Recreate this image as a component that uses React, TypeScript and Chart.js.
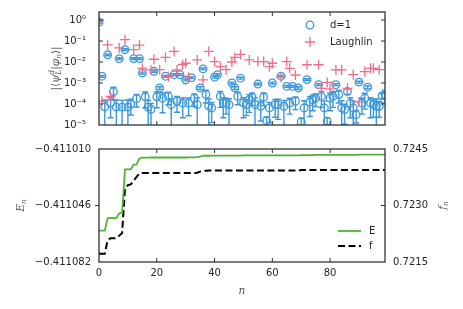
import React, { useEffect, useRef } from "react";
import { Chart, registerables } from "chart.js";
Chart.register(...registerables);

// ---------- data ----------
const N_VALUES = Array.from({ length: 100 }, (_, i) => i);

const D1_VALUES = [
  0.79, 2.1e-3, 7.4e-5, 2.2e-2, 1.1e-4, 3.9e-4, 7.1e-5, 1.45e-2, 7.1e-5, 3.9e-2,
  7.1e-5, 1.0e-4, 1.45e-2, 1.8e-4, 1.45e-2, 3.0e-3, 2.2e-4, 7.1e-5, 5.6e-5, 3.6e-3,
  2.2e-4, 5.8e-4, 1.9e-4, 2.1e-3, 2.3e-4, 9.3e-5, 2.5e-3, 1.35e-4, 2.5e-3, 1.1e-4,
  1.4e-3, 1.1e-4, 1.8e-3, 1.9e-4, 9.3e-5, 5.8e-4, 4.7e-3, 2.8e-4, 7.9e-5, 6.5e-5,
  1.9e-3, 2.5e-3, 2.3e-4, 1.1e-4, 1.1e-4, 9.3e-5, 1.0e-3, 5.8e-4, 2.3e-4, 1.7e-3,
  1.1e-4, 9.3e-5, 1.6e-4, 2.1e-4, 9.3e-5, 8.9e-4, 7.8e-5, 2.1e-4, 1.6e-5, 6.5e-5,
  1.0e-3, 9.3e-5, 9.3e-5, 2.1e-3, 7.8e-5, 6.9e-4, 1.1e-4, 6.9e-4, 1.35e-4, 5.8e-4,
  1.4e-5, 6.5e-5, 1.45e-3, 1.26e-4, 1.6e-4, 1.9e-4, 8.3e-4, 2.3e-4, 6.5e-5, 1.5e-5,
  1.9e-4, 2.3e-4, 8.3e-4, 2.8e-4, 6.5e-5, 5.4e-5, 4.0e-4, 1.1e-4, 6.5e-5, 3.1e-5,
  1.1e-3, 1.1e-4, 1.9e-4, 6.3e-4, 1.1e-4, 9.3e-5, 7.8e-5, 7.8e-5, 2.5e-4, 2.8e-4,
];

// relative (fractional) error of each d=1 point
const D1_REL_ERR = [
  0.1, 0.1, 1.1, 0.1, 0.8, 0.6, 1.2, 0.1, 1.1, 0.1,
  1.2, 0.7, 0.1, 0.6, 0.1, 0.1, 0.7, 1.1, 0.9, 0.1,
  0.7, 0.15, 0.8, 0.1, 0.6, 0.9, 0.1, 0.7, 0.1, 0.8,
  0.1, 0.75, 0.1, 0.6, 1.1, 0.15, 0.1, 0.6, 1.2, 0.8,
  0.1, 0.1, 0.7, 0.8, 0.7, 0.9, 0.1, 0.15, 0.6, 0.1,
  0.8, 0.7, 0.75, 0.6, 1.1, 0.1, 0.8, 0.6, 0.5, 0.8,
  0.1, 0.75, 0.8, 0.1, 0.9, 0.1, 0.7, 0.1, 0.6, 0.15,
  0.5, 1.2, 0.1, 0.8, 0.7, 0.6, 0.1, 0.7, 1.1, 0.5,
  0.75, 0.7, 0.1, 0.6, 1.2, 0.8, 0.3, 0.8, 1.1, 0.6,
  0.1, 0.7, 0.7, 0.15, 0.8, 0.75, 1.2, 0.7, 0.3, 0.6,
];

const LAUGHLIN_VALUES = [
  1.0, 1.35e-4, null, 6.6e-2, 2.3e-4, null, null, 4.7e-2, null, 1.15e-1,
  null, null, 3.9e-2, null, 6.3e-2, 5.1e-3, null, null, 4.2e-3, 1.35e-2,
  null, 4.3e-3, null, 1.65e-2, 2.0e-3, null, 3.2e-2, 4.2e-3, null, 7.4e-3,
  8.7e-3, 1.9e-3, null, null, 1.26e-2, null, 1.4e-3, null, 3.2e-2, null,
  1.05e-2, null, 6.0e-3, null, 4.3e-3, null, 1.0e-2, 1.65e-2, null, 2.3e-2,
  null, null, 1.26e-2, null, null, 1.05e-2, null, 1.05e-2, null, 6.0e-3,
  8.7e-3, null, null, 1.9e-3, null, 1.05e-2, 5.0e-3, null, 2.4e-3, null,
  null, null, 7.4e-3, null, null, null, 7.4e-3, 5.6e-4, null, 1.07e-3,
  5.2e-4, null, 4.2e-3, null, 4.2e-3, null, 5.6e-4, null, 2.5e-3, null,
  1.26e-4, null, 3.5e-3, null, 5.0e-3, 5.0e-3, null, 4.3e-3, null, null,
];

const E_VALUES = [
  -0.411062, -0.411062, -0.411062, -0.411054, -0.411054, -0.411054, -0.411054, -0.411051, -0.4110505, -0.411023,
  -0.411023, -0.411023, -0.41102, -0.41102, -0.411016, -0.4110155, -0.4110155, -0.4110155, -0.4110154, -0.4110154,
  -0.4110154, -0.4110154, -0.4110154, -0.4110154, -0.4110154, -0.4110154, -0.4110154, -0.4110154, -0.4110154, -0.4110154,
  -0.4110154, -0.4110153, -0.4110153, -0.4110153, -0.4110152, -0.4110148, -0.4110143, -0.4110143, -0.4110143, -0.4110142,
  -0.4110142, -0.4110142, -0.4110142, -0.4110142, -0.4110142, -0.4110142, -0.4110142, -0.4110142, -0.4110142, -0.4110142,
  -0.4110141, -0.4110141, -0.4110141, -0.4110141, -0.4110141, -0.4110141, -0.4110141, -0.4110141, -0.4110141, -0.4110141,
  -0.411014, -0.411014, -0.411014, -0.411014, -0.411014, -0.411014, -0.411014, -0.411014, -0.411014, -0.411014,
  -0.4110139, -0.4110139, -0.4110139, -0.4110139, -0.4110139, -0.4110138, -0.4110138, -0.4110138, -0.4110138, -0.4110138,
  -0.4110137, -0.4110137, -0.4110137, -0.4110137, -0.4110137, -0.4110137, -0.4110137, -0.4110137, -0.4110137, -0.4110137,
  -0.4110136, -0.4110136, -0.4110136, -0.4110136, -0.4110136, -0.4110136, -0.4110136, -0.4110136, -0.4110136, -0.4110136,
];

const F_VALUES = [
  0.72172, 0.72172, 0.72172, 0.72208, 0.72213, 0.72213, 0.72213, 0.7222, 0.72227, 0.72345,
  0.72354, 0.72356, 0.72366, 0.72376, 0.72385, 0.72386, 0.72386, 0.72386, 0.72386, 0.72386,
  0.72386, 0.72386, 0.72386, 0.72386, 0.72386, 0.72386, 0.72386, 0.72386, 0.72386, 0.72386,
  0.72386, 0.72386, 0.72386, 0.72386, 0.72387, 0.7239, 0.72392, 0.72392, 0.72393, 0.72393,
  0.72393, 0.72393, 0.72393, 0.72393, 0.72393, 0.72393, 0.72393, 0.72393, 0.72393, 0.72393,
  0.72393, 0.72393, 0.72393, 0.72393, 0.72393, 0.72393, 0.72393, 0.72393, 0.72393, 0.72393,
  0.72393, 0.72393, 0.72393, 0.72393, 0.72393, 0.72393, 0.72393, 0.72393, 0.72393, 0.72393,
  0.72394, 0.72394, 0.72394, 0.72394, 0.72394, 0.72394, 0.72394, 0.72394, 0.72394, 0.72394,
  0.72394, 0.72394, 0.72394, 0.72394, 0.72394, 0.72394, 0.72394, 0.72394, 0.72394, 0.72394,
  0.72394, 0.72394, 0.72394, 0.72394, 0.72394, 0.72394, 0.72394, 0.72394, 0.72394, 0.72394,
];

const X_TICKS = [0, 20, 40, 60, 80];
const TOP_Y_TICKS = [1e-5, 1e-4, 1e-3, 1e-2, 1e-1, 1];
const TOP_Y_LABELS = ["10⁻⁵", "10⁻⁴", "10⁻³", "10⁻²", "10⁻¹", "10⁰"];
const E_TICKS = [-0.411082, -0.411046, -0.41101];
const F_TICKS = [0.7215, 0.723, 0.7245];

// ---------- styles ----------
const BLUE = "#3b97dc";
const PINK = "#f26d89";
const GREEN = "#52b135";
const BLACK = "#000000";
const TEXT = "#262626";
const FRAME = "#333333";
const LABEL = "#555555";
const SANS = "'DejaVu Sans', sans-serif";
const SERIF = "'DejaVu Serif', serif";
const TICK_FONT = { family: SANS, size: 10 };

type Seg = { t: string; it?: boolean; pos?: number; hold?: boolean };

function drawMath(ctx: CanvasRenderingContext2D, segs: Seg[], cx: number, cy: number, rotate: boolean) {
  const fontFor = (s: Seg) => `${s.it ? "italic " : ""}${s.pos ? 7.5 : 10.5}px ${SERIF}`;
  let x = 0;
  let holdW = 0;
  const items: { s: Seg; x: number }[] = [];
  for (const s of segs) {
    ctx.font = fontFor(s);
    const w = ctx.measureText(s.t).width;
    items.push({ s, x });
    if (s.hold) holdW = w;
    else {
      x += Math.max(w, holdW);
      holdW = 0;
    }
  }
  const width = x;
  ctx.save();
  ctx.translate(cx, cy);
  if (rotate) ctx.rotate(-Math.PI / 2);
  ctx.fillStyle = LABEL;
  ctx.textBaseline = "alphabetic";
  ctx.textAlign = "left";
  for (const it of items) {
    ctx.font = fontFor(it.s);
    const dy = it.s.pos === 1 ? -4.5 : it.s.pos === -1 ? 2.5 : 0;
    ctx.fillText(it.s.t, it.x - width / 2, 3.5 + dy);
  }
  ctx.restore();
}

function framePlugin(spec: {
  id: string;
  left?: { axis: string; values: number[]; out: boolean };
  right?: { axis: string; values: number[]; out: boolean };
}) {
  return {
    id: spec.id,
    afterDatasetsDraw(chart: any) {
      const { ctx, chartArea: a, scales } = chart;
      ctx.save();
      ctx.strokeStyle = FRAME;
      ctx.lineWidth = 1;
      const L = 4;
      const line = (x1: number, y1: number, x2: number, y2: number) => {
        ctx.beginPath();
        ctx.moveTo(x1, y1);
        ctx.lineTo(x2, y2);
        ctx.stroke();
      };
      X_TICKS.forEach((v) => {
        if (v <= scales.x.min) return;
        const px = scales.x.getPixelForValue(v);
        line(px, a.top, px, a.top + L);
        line(px, a.bottom, px, a.bottom - L);
      });
      if (spec.left) {
        const sc = scales[spec.left.axis];
        spec.left.values.forEach((v) => {
          const py = sc.getPixelForValue(v);
          if (py <= a.top + 1 || py >= a.bottom - 1) return;
          if (spec.left!.out) line(a.left - L, py, a.left, py);
          else line(a.left, py, a.left + L, py);
        });
      }
      if (spec.right) {
        const sc = scales[spec.right.axis];
        spec.right.values.forEach((v) => {
          const py = sc.getPixelForValue(v);
          if (py <= a.top + 1 || py >= a.bottom - 1) return;
          if (spec.right!.out) line(a.right, py, a.right + L, py);
          else line(a.right - L, py, a.right, py);
        });
      }
      ctx.lineWidth = 1.3;
      ctx.strokeRect(a.left, a.top, a.right - a.left, a.bottom - a.top);
      ctx.restore();
    },
  };
}

const errorBarPlugin = {
  id: "errorBars",
  beforeDatasetsDraw(chart: any) {
    const { ctx, chartArea: a, scales } = chart;
    const x = scales.x;
    const y = scales.y;
    ctx.save();
    ctx.beginPath();
    ctx.rect(a.left, a.top, a.right - a.left, a.bottom - a.top);
    ctx.clip();
    ctx.strokeStyle = BLUE;
    ctx.lineWidth = 1.4;
    N_VALUES.forEach((n, i) => {
      const v = D1_VALUES[i];
      const e = v * D1_REL_ERR[i];
      const px = x.getPixelForValue(n);
      const hi = y.getPixelForValue(v + e);
      const lo = v - e > 0 ? y.getPixelForValue(v - e) : a.bottom + 10;
      ctx.beginPath();
      ctx.moveTo(px, hi);
      ctx.lineTo(px, lo);
      ctx.moveTo(px - 3, hi);
      ctx.lineTo(px + 3, hi);
      if (v - e > 0) {
        ctx.moveTo(px - 3, lo);
        ctx.lineTo(px + 3, lo);
      }
      ctx.stroke();
    });
    ctx.restore();
  },
};

const topDecor = {
  id: "topDecor",
  afterDraw(chart: any) {
    const { ctx, chartArea: a } = chart;
    const ds = chart.data.datasets;
    const mx = a.left + 211;
    const tx = a.left + 231;
    const y1 = a.top + 13;
    const y2 = a.top + 30;
    ctx.save();
    ctx.lineWidth = 1.3;
    ctx.strokeStyle = BLUE;
    ctx.beginPath();
    ctx.arc(mx, y1, 3.8, 0, Math.PI * 2);
    ctx.stroke();
    ctx.strokeStyle = PINK;
    ctx.beginPath();
    ctx.moveTo(mx - 5, y2);
    ctx.lineTo(mx + 5, y2);
    ctx.moveTo(mx, y2 - 5);
    ctx.lineTo(mx, y2 + 5);
    ctx.stroke();
    ctx.fillStyle = TEXT;
    ctx.font = `10px ${SANS}`;
    ctx.textBaseline = "middle";
    ctx.textAlign = "left";
    ctx.fillText(ds[0].label, tx, y1);
    ctx.fillText(ds[1].label, tx, y2);
    ctx.restore();
    drawMath(
      ctx,
      [
        { t: "|⟨" },
        { t: "ψ", it: true },
        { t: "d", it: true, pos: 1, hold: true },
        { t: "L", it: true, pos: -1 },
        { t: "|" },
        { t: "φ", it: true },
        { t: "n", it: true, pos: -1 },
        { t: "⟩|" },
      ],
      55,
      (a.top + a.bottom) / 2,
      true
    );
  },
};

const bottomDecor = {
  id: "bottomDecor",
  afterDraw(chart: any) {
    const { ctx, chartArea: a } = chart;
    const ds = chart.data.datasets;
    const x1 = a.left + 239;
    const x2 = a.left + 262;
    const tx = a.left + 270;
    const y1 = a.top + 82;
    const y2 = a.top + 97;
    ctx.save();
    ctx.strokeStyle = GREEN;
    ctx.lineWidth = 1.8;
    ctx.beginPath();
    ctx.moveTo(x1, y1);
    ctx.lineTo(x2, y1);
    ctx.stroke();
    ctx.strokeStyle = BLACK;
    ctx.lineWidth = 2;
    ctx.setLineDash([7, 3.5]);
    ctx.beginPath();
    ctx.moveTo(x1, y2);
    ctx.lineTo(x2, y2);
    ctx.stroke();
    ctx.setLineDash([]);
    ctx.fillStyle = TEXT;
    ctx.font = `10px ${SANS}`;
    ctx.textBaseline = "middle";
    ctx.textAlign = "left";
    ctx.fillText(ds[0].label, tx, y1);
    ctx.fillText(ds[1].label, tx, y2);
    ctx.restore();
    const cy = (a.top + a.bottom) / 2;
    drawMath(ctx, [{ t: "E", it: true }, { t: "n", it: true, pos: -1 }], 20, cy, true);
    drawMath(ctx, [{ t: "f", it: true }, { t: "n", it: true, pos: -1 }], 442, cy, true);
    drawMath(ctx, [{ t: "n", it: true }], (a.left + a.right) / 2, a.bottom + 28, false);
  },
};

const fmtMinus = (s: string) => s.replace("-", "\u2212");

// fix axis box sizes so the plot area sits exactly where it should
const fixY = (w: number) => (s: any) => {
  s.width = w;
  s.paddingTop = 0;
  s.paddingBottom = 0;
};

function topConfig(): any {
  return {
    type: "scatter",
    data: {
      datasets: [
        {
          label: "d=1",
          data: N_VALUES.map((n, i) => ({ x: n, y: D1_VALUES[i] })),
          pointStyle: "circle",
          pointRadius: 3.8,
          pointBorderWidth: 1.3,
          pointBorderColor: BLUE,
          pointBackgroundColor: "rgba(0,0,0,0)",
          borderColor: BLUE,
          backgroundColor: "rgba(0,0,0,0)",
          order: 2,
          clip: 0,
        },
        {
          label: "Laughlin",
          data: N_VALUES.map((n, i) => ({ x: n, y: LAUGHLIN_VALUES[i] })).filter((p) => p.y !== null),
          pointStyle: "cross",
          pointRadius: 5,
          pointBorderWidth: 1.3,
          pointBorderColor: PINK,
          borderColor: PINK,
          backgroundColor: PINK,
          order: 1,
          clip: 0,
        },
      ],
    },
    options: {
      responsive: false,
      animation: false,
      devicePixelRatio: 1,
      layout: { autoPadding: false, padding: { left: 0, right: 78, top: 12, bottom: 12 } },
      plugins: { legend: { display: false }, tooltip: { enabled: false } },
      scales: {
        x: { type: "linear", min: 0, max: 99, display: false },
        y: {
          type: "logarithmic",
          position: "left",
          min: 1e-5,
          max: 2.4,
          grid: { display: false, drawTicks: false },
          border: { display: false },
          afterBuildTicks: (s: any) => {
            s.ticks = TOP_Y_TICKS.map((v) => ({ value: v }));
          },
          afterFit: fixY(99),
          ticks: {
            padding: 13,
            font: TICK_FONT,
            color: TEXT,
            autoSkip: false,
            callback: (value: number) => {
              const i = TOP_Y_TICKS.findIndex((t) => Math.abs(Math.log10(t) - Math.log10(value)) < 1e-6);
              return i >= 0 ? TOP_Y_LABELS[i] : "";
            },
          },
        },
      },
    },
    plugins: [
      errorBarPlugin,
      framePlugin({
        id: "frameTop",
        left: { axis: "y", values: TOP_Y_TICKS, out: false },
        right: { axis: "y", values: TOP_Y_TICKS, out: false },
      }),
      topDecor,
    ],
  };
}

function bottomConfig(): any {
  return {
    type: "line",
    data: {
      datasets: [
        {
          label: "E",
          data: N_VALUES.map((n, i) => ({ x: n, y: E_VALUES[i] })),
          yAxisID: "y",
          borderColor: GREEN,
          borderWidth: 1.8,
          pointRadius: 0,
          fill: false,
          tension: 0,
          clip: 0,
        },
        {
          label: "f",
          data: N_VALUES.map((n, i) => ({ x: n, y: F_VALUES[i] })),
          yAxisID: "y1",
          borderColor: BLACK,
          borderWidth: 2,
          borderDash: [7, 3.5],
          pointRadius: 0,
          fill: false,
          tension: 0,
          clip: 0,
        },
      ],
    },
    options: {
      responsive: false,
      animation: false,
      devicePixelRatio: 1,
      layout: { autoPadding: false, padding: { left: 0, right: 0, top: 12, bottom: 0 } },
      plugins: { legend: { display: false }, tooltip: { enabled: false } },
      scales: {
        x: {
          type: "linear",
          min: 0,
          max: 99,
          grid: { display: false, drawTicks: false },
          border: { display: false },
          afterBuildTicks: (s: any) => {
            s.ticks = X_TICKS.map((v) => ({ value: v }));
          },
          afterFit: (s: any) => {
            s.height = 47;
            s.paddingLeft = 0;
            s.paddingRight = 0;
          },
          ticks: { padding: 5, font: TICK_FONT, color: TEXT, maxRotation: 0, autoSkip: false },
        },
        y: {
          type: "linear",
          position: "left",
          min: -0.411082,
          max: -0.41101,
          grid: { display: false, drawTicks: false },
          border: { display: false },
          afterBuildTicks: (s: any) => {
            s.ticks = E_TICKS.map((v) => ({ value: v }));
          },
          afterFit: fixY(99),
          ticks: {
            padding: 8,
            font: TICK_FONT,
            color: TEXT,
            autoSkip: false,
            callback: (v: number) => fmtMinus(v.toFixed(6)),
          },
        },
        y1: {
          type: "linear",
          position: "right",
          min: 0.7215,
          max: 0.7245,
          grid: { display: false, drawTicks: false },
          border: { display: false },
          afterBuildTicks: (s: any) => {
            s.ticks = F_TICKS.map((v) => ({ value: v }));
          },
          afterFit: fixY(78),
          ticks: {
            padding: 8,
            font: TICK_FONT,
            color: TEXT,
            autoSkip: false,
            callback: (v: number) => v.toFixed(4),
          },
        },
      },
    },
    plugins: [
      framePlugin({
        id: "frameBottom",
        left: { axis: "y", values: E_TICKS, out: true },
        right: { axis: "y1", values: F_TICKS, out: false },
      }),
      bottomDecor,
    ],
  };
}

export default function App() {
  const topRef = useRef<HTMLCanvasElement>(null);
  const botRef = useRef<HTMLCanvasElement>(null);
  useEffect(() => {
    const top = new Chart(topRef.current as HTMLCanvasElement, topConfig());
    const bot = new Chart(botRef.current as HTMLCanvasElement, bottomConfig());
    return () => {
      top.destroy();
      bot.destroy();
    };
  }, []);
  return (
    <div style={{ position: "fixed", left: 0, top: 0, width: 463, height: 309, background: "#ffffff" }}>
      <canvas
        ref={topRef}
        width={463}
        height={137}
        style={{ position: "absolute", left: 0, top: 0, width: 463, height: 137 }}
      />
      <canvas
        ref={botRef}
        width={463}
        height={172}
        style={{ position: "absolute", left: 0, top: 137, width: 463, height: 172 }}
      />
    </div>
  );
}
